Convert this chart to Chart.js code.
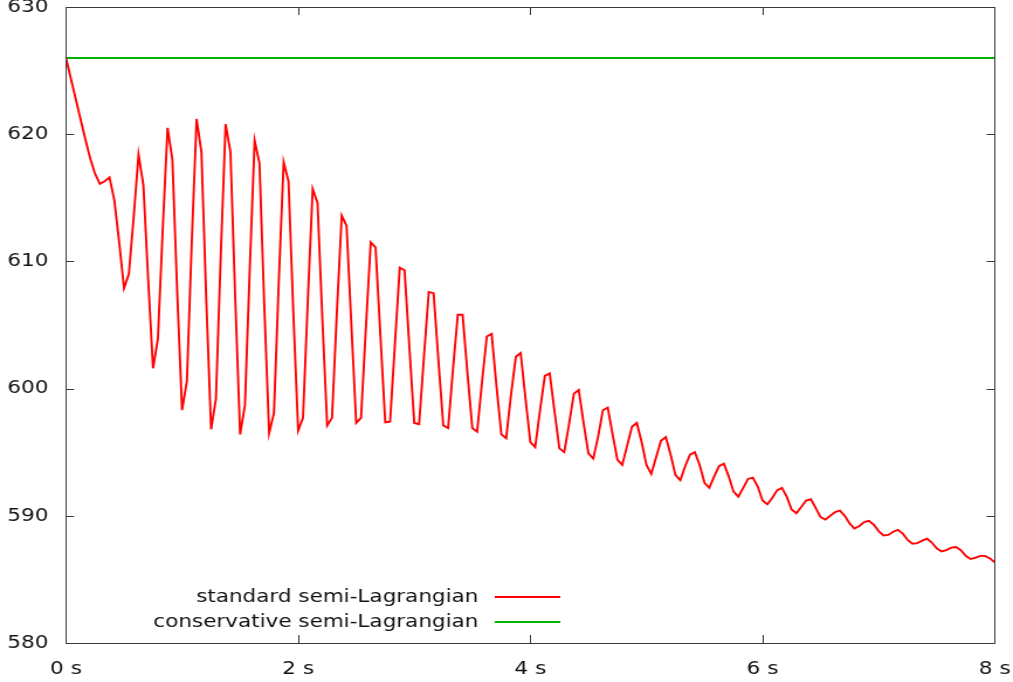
<!DOCTYPE html>
<html>
<head>
<meta charset="utf-8">
<title>semi-Lagrangian mass</title>
<script src="https://cdn.jsdelivr.net/npm/chart.js@4/dist/chart.umd.min.js"></script>
<style>
    html, body { margin: 0; padding: 0; background: #fff; overflow: hidden; }
    /* plot is laid out narrow, then widened to the window */
    #wrap { width: 866px; height: 682px; transform: scaleX(1.1697); transform-origin: 0 0; }
</style>
</head>
<body>
<div id="wrap"><canvas id="massChart" width="866" height="682"></canvas></div>
<script>
// total mass, sampled every 1/24 s
const sampleStep = 1 / 24;
const standardMass = [
    626.0, 624.4, 622.8, 621.2, 619.6, 618.1, 616.9, 616.1, 616.3, 616.6, 614.8, 611.5,
    607.9, 609.0, 613.5, 618.4, 616.0, 608.5, 601.6, 603.9, 612.5, 620.5, 618.0, 607.5,
    598.3, 600.6, 611.5, 621.2, 618.6, 607.0, 596.8, 599.2, 610.5, 620.8, 618.6, 607.0,
    596.4, 598.7, 609.5, 619.5, 617.7, 606.5, 596.5, 598.1, 608.5, 617.8, 616.3, 606.0,
    596.7, 597.7, 607.0, 615.7, 614.6, 605.5, 597.1, 597.7, 606.0, 613.6, 612.8, 605.0,
    597.3, 597.7, 604.8, 611.5, 611.1, 604.2, 597.35, 597.4, 603.5, 609.5, 609.3, 603.2,
    597.3, 597.2, 602.5, 607.6, 607.5, 602.2, 597.1, 596.9, 601.5, 605.8, 605.8, 601.2,
    596.9, 596.6, 600.5, 604.1, 604.3, 600.2, 596.4, 596.1, 599.5, 602.5, 602.8, 599.2,
    595.8, 595.4, 598.3, 601.0, 601.2, 598.2, 595.3, 595.0, 597.2, 599.6, 599.9, 597.3,
    594.9, 594.5, 596.2, 598.3, 598.5, 596.4, 594.4, 594.0, 595.5, 597.0, 597.3, 595.8,
    594.0, 593.3, 594.6, 595.9, 596.2, 594.8, 593.2, 592.8, 593.9, 594.8, 595.0, 594.0,
    592.6, 592.2, 593.1, 593.9, 594.1, 593.1, 591.9, 591.5, 592.2, 592.9, 593.0, 592.3,
    591.2, 590.9, 591.4, 592.0, 592.2, 591.5, 590.5, 590.2, 590.7, 591.2, 591.3, 590.6,
    589.9, 589.7, 590.0, 590.3, 590.4, 590.0, 589.4, 589.0, 589.2, 589.5, 589.6, 589.3,
    588.8, 588.45, 588.5, 588.75, 588.9, 588.6, 588.1, 587.8, 587.85, 588.05, 588.2, 587.9,
    587.45, 587.2, 587.3, 587.5, 587.55, 587.3, 586.85, 586.6, 586.7, 586.85, 586.85, 586.65,
    586.35
];
const conservativeTimes = [0, 8];
const conservativeMass = [626, 626];

const seriesNames = ['standard semi-Lagrangian', 'conservative semi-Lagrangian'];
const seriesColors = ['#ff0000', '#00b400'];
const xTickValues = [0, 2, 4, 6, 8];
const xTickLabels = ['0 s', '2 s', '4 s', '6 s', '8 s'];
const yTickValues = [580, 590, 600, 610, 620, 630];

const FONT = { family: '"DejaVu Sans", sans-serif', size: 18.4 };
const INK = '#111';

// gnuplot-like frame with inward ticks on all four sides, plus the key
const framePlugin = {
    id: 'frame',
    afterDatasetsDraw(chart) {
        const { ctx, chartArea: a, scales: { x, y } } = chart;
        ctx.save();
        ctx.strokeStyle = '#3a3a3a';
        ctx.lineWidth = 1;
        ctx.beginPath();
        xTickValues.forEach(v => {
            const px = Math.round(x.getPixelForValue(v)) + 0.5;
            ctx.moveTo(px, a.bottom); ctx.lineTo(px, a.bottom - 8);
            ctx.moveTo(px, a.top); ctx.lineTo(px, a.top + 8);
        });
        yTickValues.forEach(v => {
            const py = Math.round(y.getPixelForValue(v)) + 0.5;
            ctx.moveTo(a.left, py); ctx.lineTo(a.left + 7, py);
            ctx.moveTo(a.right, py); ctx.lineTo(a.right - 7, py);
        });
        ctx.stroke();
        ctx.strokeRect(Math.round(a.left) + 0.5, Math.round(a.top) + 0.5,
            Math.round(a.right - a.left), Math.round(a.bottom - a.top));

        // key, bottom left: text right-aligned, sample line after it
        ctx.font = `${FONT.size}px ${FONT.family}`;
        ctx.textAlign = 'right';
        ctx.textBaseline = 'middle';
        const keyRows = [597, 622];
        seriesNames.forEach((name, i) => {
            ctx.fillStyle = INK;
            ctx.fillText(name, 409, keyRows[i]);
            ctx.strokeStyle = seriesColors[i];
            ctx.lineWidth = 2;
            ctx.beginPath();
            ctx.moveTo(423, keyRows[i]);
            ctx.lineTo(479, keyRows[i]);
            ctx.stroke();
        });
        ctx.restore();
    }
};

new Chart(document.getElementById('massChart'), {
    type: 'line',
    data: {
        datasets: [
            {
                label: seriesNames[0],
                data: standardMass.map((v, i) => ({ x: i * sampleStep, y: v })),
                borderColor: seriesColors[0],
                borderWidth: 1.9,
                pointRadius: 0,
                tension: 0
            },
            {
                label: seriesNames[1],
                data: conservativeMass.map((v, i) => ({ x: conservativeTimes[i], y: v })),
                borderColor: seriesColors[1],
                borderWidth: 2,
                pointRadius: 0
            }
        ]
    },
    options: {
        responsive: false,
        animation: false,
        layout: { padding: { top: 7, right: 15.6, left: 0, bottom: 0 } },
        plugins: { legend: { display: false }, tooltip: { enabled: false } },
        scales: {
            x: {
                type: 'linear',
                min: 0, max: 8,
                afterBuildTicks: s => { s.ticks = xTickValues.map(v => ({ value: v })); },
                afterFit: s => { s.height = 39; s.paddingLeft = 0; s.paddingRight = 0; },
                ticks: {
                    callback: (v) => xTickLabels[xTickValues.indexOf(v)],
                    font: FONT, color: INK, padding: 15, maxRotation: 0
                },
                grid: { display: false, drawTicks: false },
                border: { display: false }
            },
            y: {
                min: 580, max: 630,
                afterBuildTicks: s => { s.ticks = yTickValues.map(v => ({ value: v })); },
                afterFit: s => { s.width = 56.4; s.paddingTop = 0; s.paddingBottom = 0; },
                ticks: { font: FONT, color: INK, padding: 15 },
                grid: { display: false, drawTicks: false },
                border: { display: false }
            }
        }
    },
    plugins: [framePlugin]
});
</script>
</body>
</html>
